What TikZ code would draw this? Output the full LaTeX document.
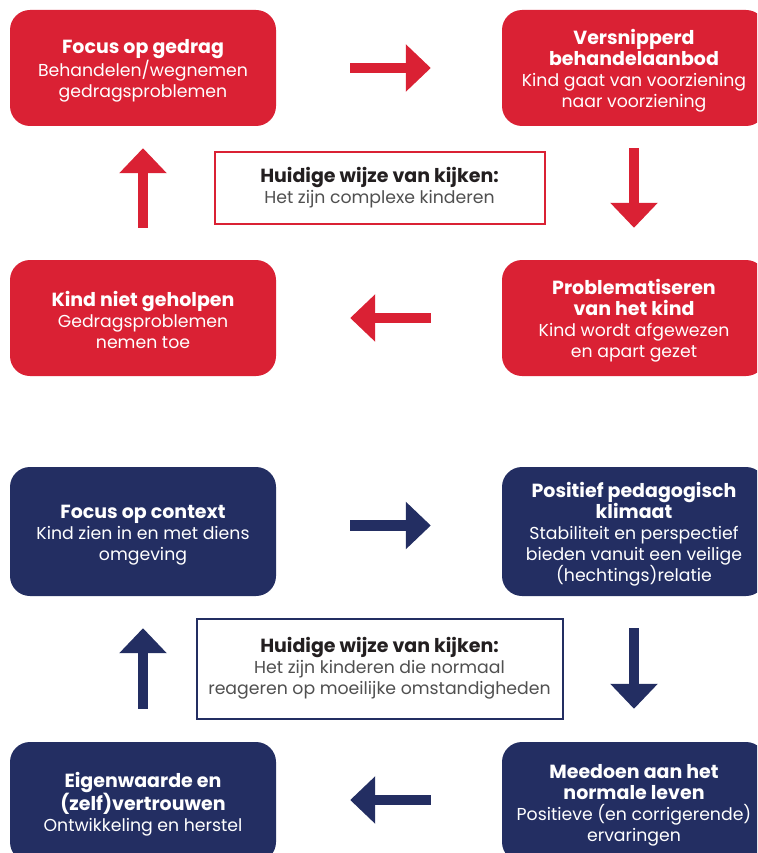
\documentclass[tikz,border=0pt]{standalone}
\usepackage{fontspec}
\setmainfont{Poppins}
\usetikzlibrary{arrows.meta}
\definecolor{kred}{RGB}{218,33,52}
\definecolor{kblue}{RGB}{35,46,98}
\definecolor{kdark}{RGB}{35,31,32}
\definecolor{kgray}{RGB}{80,80,80}
\newcommand\hd[1]{{\fontsize{19}{21}\selectfont\bfseries #1}}
\newcommand\hdtop[1]{\rule{0pt}{20pt}\hd{#1}}
\begin{document}
\begin{tikzpicture}[x=1pt,y=-1pt,
    box/.style={rounded corners=20pt,align=center,text=white,inner sep=0pt,
      font=\fontsize{17.3}{21}\selectfont},
    redbox/.style={box,fill=kred,minimum width=266pt,minimum height=116pt},
    bluebox/.style={box,fill=kblue,minimum width=266pt,minimum height=129pt},
    frame/.style={fill=white,line width=2pt,align=center,text=kgray,inner sep=0pt,
      font=\fontsize{17.3}{21}\selectfont},
    blockarrow/.style={line width=10.7pt,-{Triangle[length=25pt,width=46pt]}},
    ]
  \useasboundingbox (0,0) rectangle (757,853);
  \clip (0,0) rectangle (757,853);

  % huidige wijze van kijken
  \node[redbox] (focus) at (143,68) {\hdtop{Focus op gedrag}\\Behandelen/wegnemen\\gedragsproblemen};
  \node[redbox,minimum width=264pt] (versnip) at (634,68) {\hdtop{Versnipperd}\\\hd{behandelaanbod}\\Kind gaat van voorziening\\naar voorziening};
  \node[redbox] (kind) at (143,318) {\hdtop{Kind niet geholpen}\\Gedragsproblemen\\nemen toe};
  \node[redbox,minimum width=264pt] (problem) at (634,318) {\hdtop{Problematiseren}\\\hd{van het kind}\\Kind wordt afgewezen\\en apart gezet};
  \node[frame,draw=kred,minimum width=330pt,minimum height=72pt] (hwk1) at (379.5,188)
    {\hd{\color{kdark}Huidige wijze van kijken:}\\Het zijn complexe kinderen};

  \draw[blockarrow,kred,shorten <=74pt,shorten >=71pt] (focus.east) -- (versnip.west);
  \draw[blockarrow,kred,shorten <=22pt,shorten >=32pt] (versnip.south) -- (problem.north);
  \draw[blockarrow,kred,shorten <=71pt,shorten >=74pt] (problem.west) -- (kind.east);
  \draw[blockarrow,kred,shorten <=32pt,shorten >=22pt] (kind.north) -- (focus.south);

  % andere manier van kijken
  \node[bluebox] (context) at (143,531.5) {\hdtop{Focus op context}\\Kind zien in en met diens\\omgeving};
  \node[bluebox,minimum width=264pt] (klimaat) at (634,531.5) {\hdtop{Positief pedagogisch}\\\hd{klimaat}\\Stabiliteit en perspectief\\bieden vanuit een veilige\\(hechtings)relatie};
  \node[bluebox,minimum height=120pt] (eigen) at (143,802) {\hdtop{Eigenwaarde en}\\\hd{(zelf)vertrouwen}\\Ontwikkeling en herstel};
  \node[bluebox,minimum width=264pt,minimum height=120pt] (meedoen) at (634,802) {\hdtop{Meedoen aan het}\\\hd{normale leven}\\Positieve (en corrigerende)\\ervaringen};
  \node[frame,draw=kblue,minimum width=366pt,minimum height=100pt] (hwk2) at (379.5,668.5)
    {\hd{\color{kdark}Huidige wijze van kijken:}\\Het zijn kinderen die normaal\\reageren op moeilijke omstandigheden};

  \draw[blockarrow,kblue,shorten <=74pt,shorten >=71pt] ([yshift=6pt]context.east) -- ([yshift=6pt]klimaat.west);
  \draw[blockarrow,kblue,shorten <=32pt,shorten >=33pt] (klimaat.south) -- (meedoen.north);
  \draw[blockarrow,kblue,shorten <=71pt,shorten >=74pt] ([yshift=2pt]meedoen.west) -- ([yshift=2pt]eigen.east);
  \draw[blockarrow,kblue,shorten <=33pt,shorten >=32pt] (eigen.north) -- (context.south);
\end{tikzpicture}
\end{document}
